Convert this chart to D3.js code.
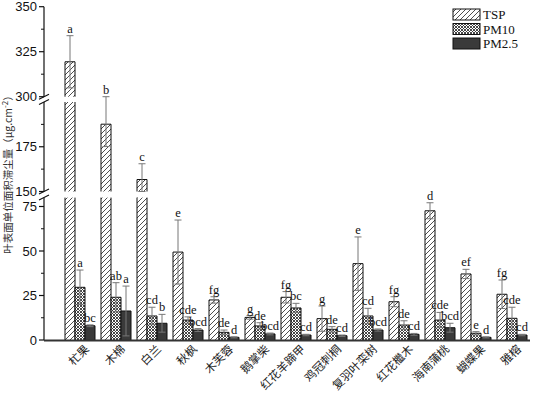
<!DOCTYPE html>
<html><head><meta charset="utf-8">
<script src="https://cdn.jsdelivr.net/npm/d3@7"></script>
<style>body{margin:0;background:#fff}svg{display:block}</style>
</head><body>
<script>
const categories = ["杧果","木棉","白兰","秋枫","木芙蓉","鹅掌柴","红花羊蹄甲","鸡冠刺桐","复羽叶栾树","红花檵木","海南蒲桃","蝴蝶果","雅榕"];
const seriesNames = ["TSP","PM10","PM2.5"];
const tsp   = [319.4,187.6,156.7,49.4,22.5,12.7,24.0,12.0,42.9,21.5,72.6,37.1,25.7];
const pm10  = [29.6,24.0,13.5,11.2,4.3,7.9,18.0,6.0,13.5,8.4,11.2,3.8,12.2];
const pm25  = [8.0,16.3,9.4,5.6,1.5,3.4,2.8,2.4,5.6,3.2,6.9,1.5,2.8];
const tspSd  = [14.5,12.5,8.8,18,1.8,1.0,3.2,7.1,15,2.8,4.5,2.6,8];
const pm10Sd = [9.7,8.2,4.9,1.8,1.3,1.8,2.6,1.5,4.3,2.4,4.3,0.9,6.2];
const pm25Sd = [0.5,14,5,0.8,0.3,0.5,0.4,0.4,0.6,0.5,2.5,0.3,0.4];
const tspSig  = ["a","b","c","e","fg","g","fg","g","e","fg","d","ef","fg"];
const pm10Sig = ["a","ab","cd","cde","de","de","bc","de","cd","de","cde","e","cde"];
const pm25Sig = ["bc","a","b","bcd","d","bcd","cd","cd","bcd","cd","bcd","d","cd"];
const majorTicks = [0,25,50,75,150,175,300,325,350];
const minorTicks = [12.5,37.5,62.5,162.5,187.5,312.5,337.5];
const yTitle = "叶表面单位面积滞尘量（μg.cm";

const W = 533, H = 396;
const svg = d3.select("body").append("svg").attr("width",W).attr("height",H);
const defs = svg.append("defs");
const ph = defs.append("pattern").attr("id","hatch").attr("patternUnits","userSpaceOnUse").attr("width",5).attr("height",5);
ph.append("rect").attr("width",5).attr("height",5).attr("fill","#fff");
ph.append("path").attr("d","M-1,1 L1,-1 M0,5 L5,0 M4,6 L6,4").attr("stroke","#222").attr("stroke-width",0.8);
const pc = defs.append("pattern").attr("id","checker").attr("patternUnits","userSpaceOnUse").attr("width",3).attr("height",3);
pc.append("rect").attr("width",3).attr("height",3).attr("fill","#fff");
pc.append("path").attr("d","M0,0 L3,3 M3,0 L0,3").attr("stroke","#333").attr("stroke-width",0.9);
const fills = ["url(#hatch)","url(#checker)","#3a3a3a"];

const segs = [
  {d:[0,80], r:[340,197.6]},
  {d:[150,200], r:[191.5,102]},
  {d:[300,350], r:[96.7,6.7]}
].map(s => Object.assign(s,{s:d3.scaleLinear().domain(s.d).range(s.r)}));
function y(v){
  for (let i=0;i<segs.length;i++){
    const s=segs[i];
    if (v<=s.d[1]) return s.s(Math.max(v,s.d[0]));
  }
  return segs[segs.length-1].s(v);
}
const x0 = d3.scaleBand().domain(categories).range([62,530]).paddingInner(1/6).paddingOuter(1/12);
const x1 = d3.scaleBand().domain(seriesNames).range([0,x0.bandwidth()]);

const axisX = 44;
const g = svg.append("g");

const series = [
  {vals:tsp, sd:tspSd, sig:tspSig},
  {vals:pm10, sd:pm10Sd, sig:pm10Sig},
  {vals:pm25, sd:pm25Sd, sig:pm25Sig}
];

series.forEach((ser,si)=>{
  categories.forEach((c,i)=>{
    const v = ser.vals[i];
    const bx = x0(c)+x1(seriesNames[si]);
    const bw = x1.bandwidth();
    segs.forEach(s=>{
      if (v<=s.d[0]) return;
      const top = s.s(Math.min(v,s.d[1]));
      const bot = s.s(s.d[0]);
      g.append("rect").attr("x",bx).attr("y",top).attr("width",bw).attr("height",bot-top)
        .attr("fill",fills[si]);
      const p = d3.path();
      p.moveTo(bx,bot); p.lineTo(bx,top);
      if (v<=s.d[1]) p.lineTo(bx+bw,top); else p.moveTo(bx+bw,top);
      p.lineTo(bx+bw,bot);
      g.append("path").attr("d",p.toString()).attr("fill","none").attr("stroke","#111").attr("stroke-width",1);
    });
  });
});
series.forEach((ser,si)=>{
  categories.forEach((c,i)=>{
    const v = ser.vals[i], sd = ser.sd[i];
    const cx = x0(c)+x1(seriesNames[si])+x1.bandwidth()/2;
    const yt = y(v+sd), yb = y(v-sd);
    g.append("line").attr("x1",cx).attr("x2",cx).attr("y1",yt).attr("y2",yb).attr("stroke","#777").attr("stroke-width",1);
    [yt,yb].forEach(yy=>g.append("line").attr("x1",cx-3.5).attr("x2",cx+3.5).attr("y1",yy).attr("y2",yy).attr("stroke","#777").attr("stroke-width",1));
    g.append("text").attr("x",cx).attr("y",Math.min(yt,y(v))-3).attr("text-anchor","middle")
      .attr("font-family","'Liberation Serif','Times New Roman',serif").attr("font-size",12.5).attr("fill","#111")
      .text(ser.sig[i]);
  });
});

const ax = svg.append("g");
segs.forEach((s,i)=>{
  ax.append("line").attr("x1",axisX).attr("x2",axisX).attr("y1",s.r[0]).attr("y2",s.r[1]).attr("stroke","#111").attr("stroke-width",1.2);
});
majorTicks.forEach(t=>{
  ax.append("line").attr("x1",axisX-5).attr("x2",axisX).attr("y1",y(t)).attr("y2",y(t)).attr("stroke","#111").attr("stroke-width",1.2);
  ax.append("text").attr("x",axisX-7).attr("y",y(t)).attr("dy","0.36em").attr("text-anchor","end")
    .attr("font-family","'Liberation Sans',Arial,sans-serif").attr("font-size",13).attr("fill","#111").text(t);
});
minorTicks.forEach(t=>{
  ax.append("line").attr("x1",axisX-3).attr("x2",axisX).attr("y1",y(t)).attr("y2",y(t)).attr("stroke","#111").attr("stroke-width",1);
});
[[segs[0].r[1],segs[1].r[0]],[segs[1].r[1],segs[2].r[0]]].forEach(([a,b])=>{
  [a,b].forEach(yy=>{
    ax.append("line").attr("x1",axisX-5).attr("x2",axisX+5).attr("y1",yy+2.5).attr("y2",yy-2.5).attr("stroke","#111").attr("stroke-width",1.1);
  });
});
ax.append("line").attr("x1",axisX).attr("x2",530).attr("y1",340.5).attr("y2",340.5).attr("stroke","#333").attr("stroke-width",2);

categories.forEach(c=>{
  const cx = x0(c)+x0.bandwidth()/2+7;
  svg.append("text").attr("transform",`translate(${cx},347) rotate(-45)`).attr("text-anchor","end")
    .attr("dy","0.35em")
    .attr("font-family","'Noto Sans CJK SC',sans-serif").attr("font-size",11.5).attr("fill","#222").text(c);
});

const yt = svg.append("text").attr("transform","translate(12,172) rotate(-90)").attr("text-anchor","middle")
  .attr("font-family","'Noto Sans CJK SC',sans-serif").attr("font-size",10.5).attr("fill","#333");
yt.append("tspan").text(yTitle);
yt.append("tspan").attr("dy",-4).attr("font-size",8).text("-2");
yt.append("tspan").attr("dy",4).text("）");

const lg = svg.append("g");
seriesNames.forEach((n,i)=>{
  const ly = 9 + i*14.5;
  lg.append("rect").attr("x",453).attr("y",ly).attr("width",27).attr("height",11).attr("fill",fills[i]).attr("stroke","#111").attr("stroke-width",1);
  lg.append("text").attr("x",483).attr("y",ly+5.5).attr("dy","0.35em")
    .attr("font-family","'Liberation Serif','Times New Roman',serif").attr("font-size",13).attr("fill","#111").text(n);
});
</script>
</body></html>
